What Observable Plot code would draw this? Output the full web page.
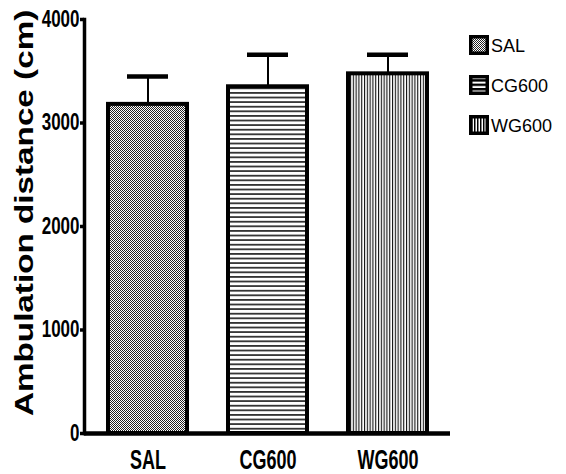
<!DOCTYPE html>
<html>
<head>
<meta charset="utf-8">
<script src="https://cdn.jsdelivr.net/npm/d3@7"></script>
<script src="https://cdn.jsdelivr.net/npm/@observablehq/plot@0.6"></script>
<style>
  html, body { margin: 0; padding: 0; background: #fff; }
  #chart { position: relative; width: 566px; height: 474px; }
</style>
</head>
<body>
<div id="chart"></div>
<script>
const categories = ["SAL", "CG600", "WG600"];
const means = [3180, 3350, 3475];
const sems = [270, 310, 185];
const yTicks = [0, 1000, 2000, 3000, 4000];
const yTitle = "Ambulation distance (cm)";
const patternIds = ["pat-sal", "pat-cg", "pat-wg"];
const legendPatternIds = ["lpat-sal", "lpat-cg", "lpat-wg"];

const data = categories.map((c, i) => ({group: c, mean: means[i], sem: sems[i], fill: `url(#${patternIds[i]})`}));

const font = "'Liberation Sans', Arial, sans-serif";

const plot = Plot.plot({
  width: 566,
  height: 474,
  marginLeft: 84,
  marginRight: 116,
  marginTop: 19,
  marginBottom: 41,
  style: {fontFamily: font, color: "#000", background: "#fff"},
  x: {domain: categories, paddingInner: 0.344, paddingOuter: 0.19},
  y: {domain: [0, 4000]},
  color: {type: "identity"},
  marks: [
    Plot.ruleX(data, {x: "group", y1: "mean", y2: d => d.mean + d.sem, stroke: "#000", strokeWidth: 2}),
    Plot.tickY(data, {x: "group", y: d => d.mean + d.sem, stroke: "#000", strokeWidth: 4.5, insetLeft: 19, insetRight: 19}),
    Plot.barY(data, {x: "group", y: "mean", fill: "fill", stroke: "#000", strokeWidth: 4}),
    Plot.frame({anchor: "left", stroke: "#000", strokeWidth: 3.5}),
    Plot.ruleY([0], {stroke: "#000", strokeWidth: 4.5}),
    Plot.axisY({ticks: yTicks, tickSize: 4, tickPadding: 1, tickFormat: d => String(d), fontSize: 17, fontWeight: "bold", strokeWidth: 3.5, label: null}),
    Plot.axisX({tickSize: 0, tickPadding: 17, fontSize: 18, fontWeight: "bold", label: null}),
    Plot.text([yTitle], {text: d => d, frameAnchor: "left", textAnchor: "middle", lineAnchor: "middle", rotate: -90, dx: -60, dy: -13.5, fontSize: 25, fontWeight: "bold", fill: "#000"})
  ]
});

const svg = d3.select(plot.tagName.toLowerCase() === "svg" ? plot : plot.querySelector("svg"));
const defs = svg.insert("defs", ":first-child");

// SAL: fine checker
let p = defs.append("pattern").attr("id", "pat-sal").attr("patternUnits", "userSpaceOnUse").attr("width", 2).attr("height", 2);
p.append("rect").attr("width", 2).attr("height", 2).attr("fill", "#fff");
p.append("rect").attr("width", 1).attr("height", 1).attr("fill", "#222");
p.append("rect").attr("x", 1).attr("y", 1).attr("width", 1).attr("height", 1).attr("fill", "#222");
// CG600: horizontal lines
p = defs.append("pattern").attr("id", "pat-cg").attr("patternUnits", "userSpaceOnUse").attr("width", 10).attr("height", 4.6);
p.append("rect").attr("width", 10).attr("height", 4.6).attr("fill", "#fff");
p.append("rect").attr("width", 10).attr("height", 1.8).attr("fill", "#333");
// WG600: vertical lines
p = defs.append("pattern").attr("id", "pat-wg").attr("patternUnits", "userSpaceOnUse").attr("width", 2.8).attr("height", 10);
p.append("rect").attr("width", 2.8).attr("height", 10).attr("fill", "#fff");
p.append("rect").attr("width", 1.1).attr("height", 10).attr("fill", "#111");

// legend patterns
p = defs.append("pattern").attr("id", "lpat-sal").attr("patternUnits", "userSpaceOnUse").attr("width", 2).attr("height", 2);
p.append("rect").attr("width", 2).attr("height", 2).attr("fill", "#fff");
p.append("rect").attr("width", 1).attr("height", 1).attr("fill", "#222");
p.append("rect").attr("x", 1).attr("y", 1).attr("width", 1).attr("height", 1).attr("fill", "#222");
p = defs.append("pattern").attr("id", "lpat-cg").attr("patternUnits", "userSpaceOnUse").attr("width", 10).attr("height", 4.4);
p.append("rect").attr("width", 10).attr("height", 4.4).attr("fill", "#000");
p.append("rect").attr("y", 2.4).attr("width", 10).attr("height", 2).attr("fill", "#fff");
p = defs.append("pattern").attr("id", "lpat-wg").attr("patternUnits", "userSpaceOnUse").attr("width", 3).attr("height", 10);
p.append("rect").attr("width", 3).attr("height", 10).attr("fill", "#000");
p.append("rect").attr("x", 1.5).attr("width", 1.5).attr("height", 10).attr("fill", "#fff");

// vertical stretch of text (reference is vertically stretched)
function stretchNode(t, sy) {
  let a = 0, b = 0;
  const tr = t.getAttribute("transform") || "";
  const m = tr.match(/translate\(\s*([-\d.e]+)[ ,]*([-\d.e]+)?\s*\)/);
  if (m) { a = +m[1]; b = m[2] != null ? +m[2] : 0; }
  a += parseFloat(t.getAttribute("x") || 0);
  b += parseFloat(t.getAttribute("y") || 0);
  const g = document.createElementNS("http://www.w3.org/2000/svg", "g");
  g.setAttribute("transform", `translate(${a},${b}) scale(1,${sy}) translate(${-a},${-b})`);
  t.parentNode.insertBefore(g, t);
  g.appendChild(t);
}
function stretch(label, sy) {
  svg.selectAll(`g[aria-label="${label}"] text`).each(function() { stretchNode(this, sy); });
}
stretch("y-axis tick label", 1.38);
stretch("x-axis tick label", 1.5);
svg.selectAll("text").filter(function() { return this.textContent === yTitle; }).each(function() { stretchNode(this, 1.33); });

// legend
const legendX = 469, legendY0 = 35, legendStep = 40, sq = 20;
const lg = svg.append("g").attr("aria-label", "legend").attr("text-anchor", "start");
categories.forEach((c, i) => {
  const y = legendY0 + i * legendStep;
  lg.append("rect").attr("x", legendX + 1.75).attr("y", y + 1.75).attr("width", sq - 3.5).attr("height", sq - 3.5)
    .attr("fill", `url(#${legendPatternIds[i]})`).attr("stroke", "#000").attr("stroke-width", 3.5);
  lg.append("text").attr("x", legendX + sq + 2).attr("y", y + sq / 2 + 1).attr("dy", "0.35em")
    .attr("text-anchor", "start").attr("font-family", font).attr("font-size", 18).attr("fill", "#000").text(c);
});

document.getElementById("chart").appendChild(plot);
</script>
</body>
</html>
